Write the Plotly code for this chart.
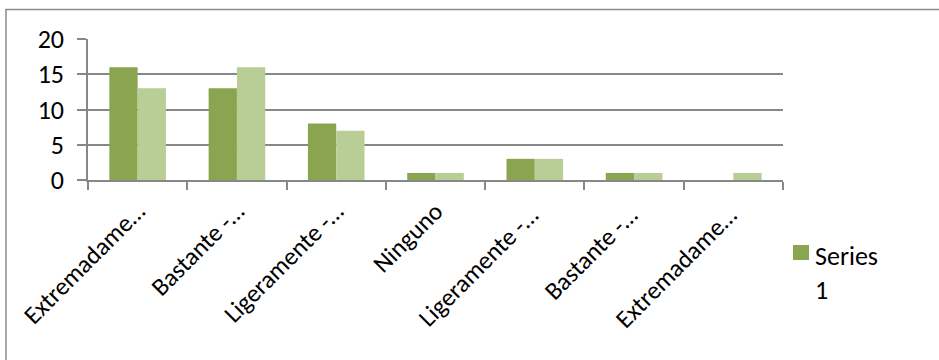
import plotly.graph_objects as go

# Response categories (labels truncated as shown on the axis)
categories = [
    "Extremadame…",
    "Bastante -…",
    "Ligeramente -…",
    "Ninguno",
    "Ligeramente -… ",
    "Bastante -… ",
    "Extremadame… ",
]
series1 = [16, 13, 8, 1, 3, 1, 0]
series2 = [13, 16, 7, 1, 3, 1, 1]
y_ticks = [0, 5, 10, 15, 20]
legend_label = "Series<br>1"

FONT = "Carlito, Calibri, Lato, sans-serif"
FS = 26
GRID = "#878787"
DARK = "#8AA54F"
LIGHT = "#B9CE96"

W, H = 939, 360
L, R, T, B = 88, 156, 39, 180

fig = go.Figure()
fig.add_trace(go.Bar(x=categories, y=series1, name="Series 1", showlegend=False,
                     marker=dict(color=DARK, line=dict(width=0))))
fig.add_trace(go.Bar(x=categories, y=series2, name="Series 2", showlegend=False,
                     marker=dict(color=LIGHT, line=dict(width=0))))

pw, ph = W - L - R, H - T - B

def px_x(p):
    return (p - L) / pw

def px_y(p):
    return (H - B - p) / ph

# outer chart frame
fig.add_shape(type="rect", xref="paper", yref="paper",
              x0=px_x(6), x1=px_x(W + 5), y0=px_y(H + 5), y1=px_y(9.5),
              line=dict(color="#8C8C8C", width=1.5), fillcolor="rgba(0,0,0,0)",
              layer="below")

# legend key for the first series
fig.add_shape(type="rect", xref="paper", yref="paper",
              x0=px_x(793), x1=px_x(809), y0=px_y(260), y1=px_y(245),
              line=dict(width=0), fillcolor=DARK)
fig.add_annotation(xref="paper", yref="paper", x=px_x(813), y=px_y(238),
                   xanchor="left", yanchor="top", align="left", showarrow=False,
                   text=legend_label, font=dict(family=FONT, size=FS, color="black"))

fig.update_layout(
    width=W, height=H,
    margin=dict(l=L, r=R, t=T, b=B),
    paper_bgcolor="white", plot_bgcolor="white",
    barmode="group", bargap=0.43, bargroupgap=0,
    font=dict(family=FONT, size=FS, color="black"),
    showlegend=False,
    xaxis=dict(
        type="category", tickangle=-45, showline=True, linecolor=GRID, linewidth=1.5,
        ticks="outside", tickson="boundaries", ticklen=8, tickcolor=GRID, tickwidth=1.5,
        showgrid=False, tickfont=dict(family=FONT, size=25, color="black"),
        ticklabelstandoff=5, automargin=False,
    ),
    yaxis=dict(
        range=[0, 20], tickvals=y_ticks, showline=True, linecolor=GRID, linewidth=1.5,
        ticks="outside", ticklen=9, tickcolor=GRID, tickwidth=1.5,
        showgrid=True, gridcolor=GRID, gridwidth=1.5, zeroline=False,
        tickfont=dict(family=FONT, size=FS, color="black"), ticklabelstandoff=8,
        automargin=False,
    ),
)

fig.write_html("out.html")
